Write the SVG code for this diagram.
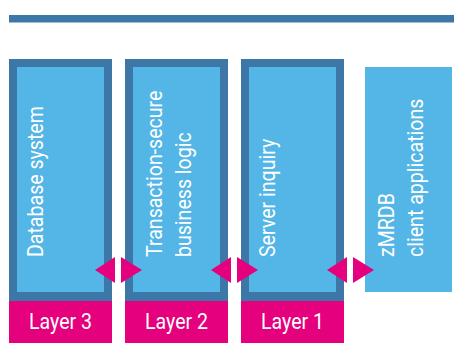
<svg xmlns="http://www.w3.org/2000/svg" width="454" height="343" viewBox="0 0 454 343">
<style>
.outer{fill:#3d77a8}
.inner{fill:#53b6e6}
.layer{fill:#e5007e}
.vt{font-family:Roboto,"Liberation Sans",sans-serif;font-size:21.5px;fill:#ffffff}
.lt{font-family:Roboto,"Liberation Sans",sans-serif;font-size:21.5px;fill:#ffffff;text-anchor:middle}
.arr{fill:#e5007e}
</style>
<rect x="9" y="15" width="445" height="7.5" fill="#3d77a8"/>
<g id="layer3">
<rect class="outer" x="9" y="59" width="103" height="242"/>
<rect class="inner" x="17" y="67" width="87" height="225"/>
<rect class="layer" x="9" y="301" width="103" height="42"/>
<text class="vt" transform="translate(42.5,257) rotate(-90) scale(0.91,1)">Database system</text>
<text class="lt" transform="translate(60.5,328.5) scale(0.91,1)">Layer 3</text>
</g>
<g id="layer2">
<rect class="outer" x="125" y="59" width="103" height="242"/>
<rect class="inner" x="133" y="67" width="87" height="225"/>
<rect class="layer" x="125" y="301" width="103" height="42"/>
<text class="vt" transform="translate(161.5,257) rotate(-90) scale(0.91,1)">Transaction-secure</text>
<text class="vt" transform="translate(190.5,257) rotate(-90) scale(0.91,1)">business logic</text>
<text class="lt" transform="translate(176.5,328.5) scale(0.91,1)">Layer 2</text>
</g>
<g id="layer1">
<rect class="outer" x="241" y="59" width="103" height="242"/>
<rect class="inner" x="249" y="67" width="87" height="225"/>
<rect class="layer" x="241" y="301" width="103" height="42"/>
<text class="vt" transform="translate(274.5,257) rotate(-90) scale(0.91,1)">Server inquiry</text>
<text class="lt" transform="translate(292.5,328.5) scale(0.91,1)">Layer 1</text>
</g>
<g id="client">
<rect class="inner" x="365" y="67" width="87" height="225"/>
<text class="vt" transform="translate(393.5,257) rotate(-90) scale(0.91,1)">zMRDB</text>
<text class="vt" transform="translate(422.5,257) rotate(-90) scale(0.91,1)">client applications</text>
</g>
<g id="connectors">
<polygon class="arr" points="95,270 115,257 115,283"/>
<polygon class="arr" points="121,257 121,283 142,270"/>
<polygon class="arr" points="211,270 231,257 231,283"/>
<polygon class="arr" points="237,257 237,283 258,270"/>
<polygon class="arr" points="327,270 347,257 347,283"/>
<polygon class="arr" points="353,257 353,283 374,270"/>
</g>
</svg>
